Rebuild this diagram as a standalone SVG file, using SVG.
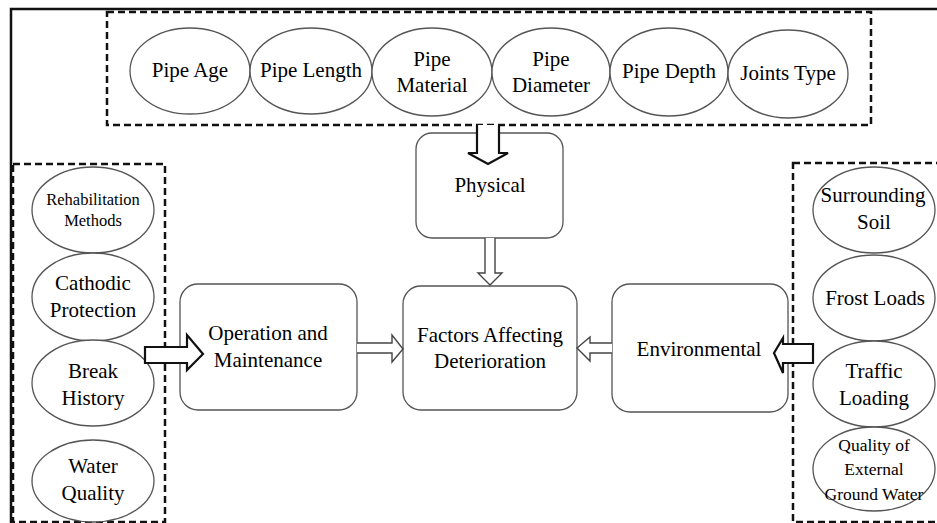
<svg xmlns="http://www.w3.org/2000/svg" width="937" height="523" viewBox="0 0 937 523">
<style>
text{font-family:"Liberation Serif","Times New Roman",serif;fill:#000;text-anchor:middle}
.t20{font-size:21px}
.t21{font-size:21px}
.t16{font-size:16.5px}
.t17{font-size:17.5px}
.ell{fill:#fff;stroke:#555;stroke-width:1.3}
.box{fill:#fff;stroke:#555;stroke-width:1.3}
.dash{fill:none;stroke:#111;stroke-width:2.5;stroke-dasharray:7 4}
.big{fill:#fff;stroke:#111;stroke-width:2.2;stroke-linejoin:miter}
.thin{fill:#fff;stroke:#444;stroke-width:1.4}
</style>
<rect width="937" height="523" fill="#fff"/>
<!-- outer frame -->
<path d="M11,523 V9 H937" fill="none" stroke="#111" stroke-width="2.5"/>
<!-- dashed groups -->
<rect class="dash" x="107" y="12" width="764" height="113"/>
<rect class="dash" x="13" y="164" width="152" height="358"/>
<rect class="dash" x="793" y="163" width="150" height="359"/>

<g id="top-group">
<g id="pipe-age"><ellipse class="ell" cx="190" cy="71" rx="60" ry="43"/><text class="t20" x="190" y="77">Pipe Age</text></g>
<g id="pipe-length"><ellipse class="ell" cx="311" cy="71" rx="61" ry="43"/><text class="t20" x="311" y="77">Pipe Length</text></g>
<g id="pipe-material"><ellipse class="ell" cx="432" cy="72" rx="60" ry="44"/><text class="t20" x="432" y="66">Pipe</text><text class="t20" x="432" y="92">Material</text></g>
<g id="pipe-diameter"><ellipse class="ell" cx="551" cy="72" rx="59" ry="44"/><text class="t20" x="551" y="66">Pipe</text><text class="t20" x="551" y="92">Diameter</text></g>
<g id="pipe-depth"><ellipse class="ell" cx="669" cy="72" rx="59" ry="44"/><text class="t20" x="669" y="78">Pipe Depth</text></g>
<g id="joints-type"><ellipse class="ell" cx="788" cy="74" rx="60" ry="44"/><text class="t20" x="788" y="80">Joints Type</text></g>
</g>

<g id="left-group">
<g id="rehab"><ellipse class="ell" cx="93" cy="210" rx="61" ry="43"/><text class="t16" x="93" y="205">Rehabilitation</text><text class="t16" x="93" y="226">Methods</text></g>
<g id="cathodic"><ellipse class="ell" cx="93" cy="297" rx="61" ry="44"/><text class="t20" x="93" y="290">Cathodic</text><text class="t20" x="93" y="317">Protection</text></g>
<g id="break"><ellipse class="ell" cx="93" cy="383" rx="61" ry="43"/><text class="t20" x="93" y="378">Break</text><text class="t20" x="93" y="405">History</text></g>
<g id="water-quality"><ellipse class="ell" cx="93" cy="481" rx="61" ry="41"/><text class="t20" x="93" y="473">Water</text><text class="t20" x="93" y="500">Quality</text></g>
</g>

<g id="right-group">
<g id="soil"><ellipse class="ell" cx="874" cy="210" rx="61" ry="43"/><text class="t20" x="873" y="202">Surrounding</text><text class="t20" x="874" y="229">Soil</text></g>
<g id="frost"><ellipse class="ell" cx="874" cy="298" rx="61" ry="43"/><text class="t20" x="875" y="305">Frost Loads</text></g>
<g id="traffic"><ellipse class="ell" cx="874" cy="384" rx="61" ry="43"/><text class="t20" x="874" y="378">Traffic</text><text class="t20" x="874" y="405">Loading</text></g>
<g id="ground-water"><ellipse class="ell" cx="874" cy="469" rx="61" ry="42"/><text class="t17" x="874" y="451">Quality of</text><text class="t17" x="874" y="475">External</text><text class="t17" x="874" y="500">Ground Water</text></g>
</g>

<g id="physical"><rect class="box" x="416" y="133" width="147" height="105" rx="16"/><text class="t21" x="490" y="192">Physical</text></g>
<g id="factors"><rect class="box" x="403" y="286" width="174" height="124" rx="18"/><text class="t21" x="490" y="342">Factors Affecting</text><text class="t21" x="490" y="368">Deterioration</text></g>
<g id="operation"><rect class="box" x="180" y="284" width="177" height="126" rx="18"/><text class="t21" x="268" y="340">Operation and</text><text class="t21" x="268" y="367">Maintenance</text></g>
<g id="environmental"><rect class="box" x="612" y="284" width="176" height="128" rx="18"/><text class="t21" x="699" y="356">Environmental</text></g>

<g id="connectors">
<!-- top group to physical -->
<path class="big" d="M477,125 V153 H468 L488,164 L508,153 H499 V125"/>
<!-- physical to factors -->
<path class="thin" d="M485,238 V273 H478 L490,285 L502,273 H495 V238"/>
<!-- left group to operation -->
<path class="big" d="M145,347 H187 V335 L203,354 L187,370 V363 H145 Z"/>
<!-- operation to factors -->
<path class="thin" d="M357,343 H392 V335 L403,349 L392,362 V353 H357"/>
<!-- environmental to factors -->
<path class="thin" d="M612,343 H590 V337 L577,348 L590,361 V353 H612"/>
<!-- right group to environmental -->
<path class="big" d="M813,344 H783 V338 L774,353 L783,373 V363 H813 Z"/>
</g>
</svg>
